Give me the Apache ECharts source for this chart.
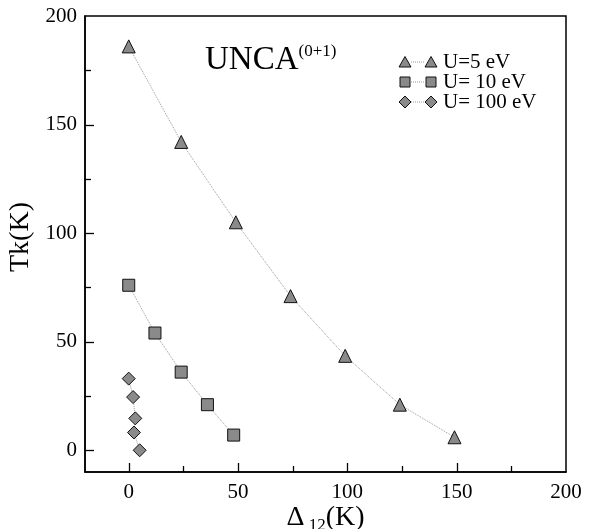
<!DOCTYPE html>
<html><head><meta charset="utf-8">
<script src="https://cdn.jsdelivr.net/npm/echarts@6/dist/echarts.min.js"></script>
<style>html,body{margin:0;padding:0;background:#fff}#c{width:596px;height:529px}</style>
</head><body><div id="c"></div>
<script>
const u5X = [0, 24, 49, 74, 99, 124, 149];
const u5Y = [186, 142, 105, 71, 43.5, 21, 6];
const u10X = [0, 12, 24, 36, 48];
const u10Y = [76, 54, 36, 21, 7];
const u100X = [0, 2, 3, 2.4, 5];
const u100Y = [33, 24.5, 14.7, 8.2, 0];
const seriesNames = ['U=5 eV', 'U= 10 eV', 'U= 100 eV'];
const xMajor = [0, 50, 100, 150, 200];
const xMinor = [25, 75, 125, 175];
const yMajor = [0, 50, 100, 150, 200];
const yMinor = [25, 75, 125, 175];

const FONT = '"Liberation Serif", "DejaVu Serif", serif';
const zip = (xs, ys) => xs.map((x, i) => [x, ys[i]]);
const markFill = '#8a8a8a';
const diamondPath = 'path://M0,-1L1,0L0,1L-1,0Z';
const X_MIN = -20, X_MAX = 200, Y_MIN = -10, Y_MAX = 200;

function mkSeries(name, xs, ys, symbol, size) {
  return {
    name, type: 'line', data: zip(xs, ys), symbol, symbolSize: size,
    showAllSymbol: true,
    lineStyle: { color: '#9a9a9a', width: 1, type: 'dotted' },
    itemStyle: { color: markFill, borderColor: '#111', borderWidth: 1 },
    emphasis: { disabled: true }, animation: false, z: 3
  };
}
const lbl = { fontFamily: FONT, fontSize: 21, color: '#000' };

const chart = echarts.init(document.getElementById('c'), null, { renderer: 'canvas' });
chart.setOption({
  animation: false,
  backgroundColor: '#fff',
  grid: { left: 85, right: 30, top: 16, bottom: 57, show: true, borderColor: '#000', borderWidth: 1.5,
          containLabel: false, outerBoundsMode: 'none' },
  title: {
    text: '{a|UNCA}{b|(0+1)}',
    left: 200, top: 38,
    textStyle: { fontWeight: 'normal', rich: {
      a: { fontFamily: FONT, fontSize: 33, color: '#000', fontWeight: 'normal' },
      b: { fontFamily: FONT, fontSize: 17, color: '#000', fontWeight: 'normal', verticalAlign: 'top', padding: [0, 0, 17, 0] }
    } }
  },
  xAxis: {
    type: 'value', min: X_MIN, max: X_MAX, position: 'bottom',
    axisLine: { show: true, onZero: false, lineStyle: { color: '#000', width: 1.5 } },
    axisTick: { show: false },
    axisLabel: Object.assign({ margin: 10, customValues: xMajor.slice() }, lbl),
    splitLine: { show: false },
    name: '{d|Δ}{s| 12}{d|(K)}', nameLocation: 'middle', nameGap: 30, nameMoveOverlap: false,
    nameTextStyle: { rich: {
      d: { fontFamily: FONT, fontSize: 28, color: '#000' },
      s: { fontFamily: FONT, fontSize: 17, color: '#000', padding: [15, 0, 0, 0] }
    } }
  },
  yAxis: {
    type: 'value', min: Y_MIN, max: Y_MAX, position: 'left',
    axisLine: { show: true, onZero: false, lineStyle: { color: '#000', width: 1.5 } },
    axisTick: { show: false },
    axisLabel: Object.assign({ margin: 8, customValues: yMajor.slice() }, lbl),
    splitLine: { show: false },
    name: 'Tk(K)', nameLocation: 'middle', nameGap: 50, nameMoveOverlap: false,
    nameTextStyle: { fontFamily: FONT, fontSize: 28, color: '#000', padding: [0, 0, 0, 14] }
  },
  series: [
    mkSeries(seriesNames[0], u5X, u5Y, 'triangle', 13),
    mkSeries(seriesNames[1], u10X, u10Y, 'rect', 12),
    mkSeries(seriesNames[2], u100X, u100Y, diamondPath, 13)
  ]
});

const g = [];
// inward ticks, placed through the axis scales
const x0 = chart.convertToPixel({ xAxisIndex: 0 }, X_MIN);
const yBase = chart.convertToPixel({ yAxisIndex: 0 }, Y_MIN);
function addXTick(v, len) {
  const px = Math.round(chart.convertToPixel({ xAxisIndex: 0 }, v)) + 0.5;
  g.push({ type: 'line', shape: { x1: px, y1: yBase, x2: px, y2: yBase - len }, style: { stroke: '#000', lineWidth: 1.3 }, z: 50, silent: true });
}
function addYTick(v, len) {
  const py = Math.round(chart.convertToPixel({ yAxisIndex: 0 }, v)) + 0.5;
  g.push({ type: 'line', shape: { x1: x0, y1: py, x2: x0 + len, y2: py }, style: { stroke: '#000', lineWidth: 1.3 }, z: 50, silent: true });
}
xMajor.slice(0, -1).forEach(v => addXTick(v, 9));
xMinor.forEach(v => addXTick(v, 6));
yMajor.slice(0, -1).forEach(v => addYTick(v, 9));
yMinor.forEach(v => addYTick(v, 6));

// legend drawn as graphics (two markers joined by a dotted line)
const legendShapes = ['triangle', 'rect', 'diamond'];
legendShapes.forEach((shape, i) => {
  const cy = 62 + i * 20;
  [405, 431].forEach(cx => {
    let el;
    if (shape === 'triangle') el = { type: 'polygon', shape: { points: [[cx, cy - 5.5], [cx + 6, cy + 5], [cx - 6, cy + 5]] } };
    else if (shape === 'rect') el = { type: 'rect', shape: { x: cx - 5, y: cy - 5, width: 10, height: 10 } };
    else el = { type: 'polygon', shape: { points: [[cx, cy - 6], [cx + 6, cy], [cx, cy + 6], [cx - 6, cy]] } };
    el.style = { fill: markFill, stroke: '#111', lineWidth: 1 };
    el.z = 10;
    g.push(el);
  });
  g.push({ type: 'line', shape: { x1: 411, y1: cy, x2: 425, y2: cy }, style: { stroke: '#9a9a9a', lineWidth: 1, lineDash: [1, 1] }, z: 9 });
  g.push({ type: 'text', style: { text: seriesNames[i], x: 443, y: cy, fontFamily: FONT, fontSize: 21, fill: '#000', verticalAlign: 'middle' }, z: 10 });
});
chart.setOption({ graphic: g });
</script>
</body></html>
